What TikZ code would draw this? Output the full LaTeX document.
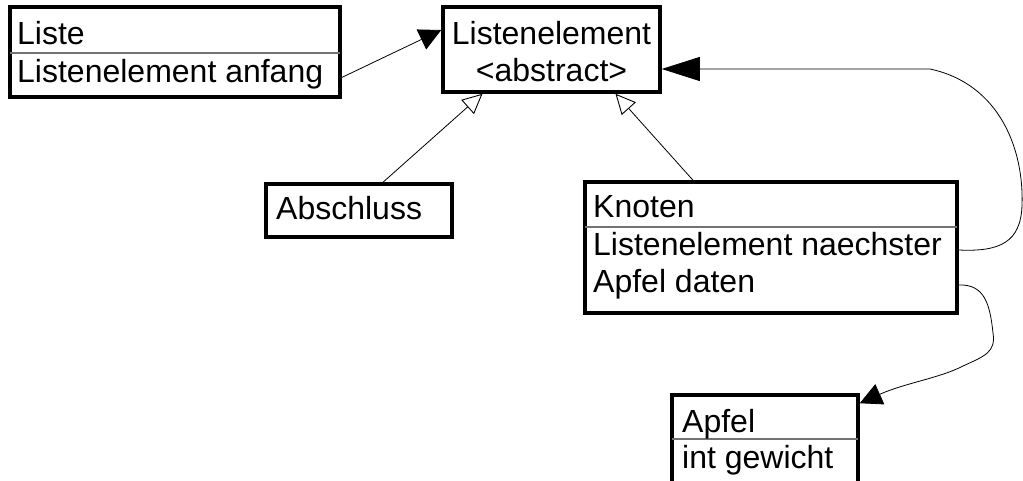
\documentclass[tikz,border=0pt]{standalone}
\usepackage{fontspec}
\setmainfont{Liberation Sans}
\usetikzlibrary{arrows.meta}
\begin{document}
\begin{tikzpicture}[x=1pt,y=-1pt,
  umlbox/.style={draw=black,line width=3.5pt,rectangle,inner sep=0pt,fill=white},
  lbl/.style={inner sep=0pt,font=\fontsize{32}{36}\selectfont},
  divider/.style={draw=black!55,line width=1.1pt},
  conn/.style={draw=black,line width=0.8pt},
  assoc/.style={conn,-{Triangle[length=22pt,width=22pt]}},
  bigassoc/.style={conn,-{Triangle[length=38pt,width=24pt]}},
  inherit/.style={conn,-{Triangle[open,length=20pt,width=19pt,line width=0.9pt,fill=white]}}]
\clip (0,0) rectangle (1023,481);
\fill[white] (0,0) rectangle (1023,481);
% boxes
\node[umlbox,minimum width=330pt,minimum height=90pt] (liste) at (175,52) {};
\node[umlbox,minimum width=217pt,minimum height=85pt] (le) at (551.5,49.5) {};
\node[umlbox,minimum width=186pt,minimum height=53pt] (abs) at (359,210.5) {};
\node[umlbox,minimum width=372pt,minimum height=131pt] (kn) at (771,247.5) {};
\node[umlbox,minimum width=186pt,minimum height=100pt] (apfel) at (765,445) {};
% dividers
\draw[divider] (10,53) -- (340,53);
\draw[divider] (585,227) -- (957,227);
\draw[divider] (672,439) -- (858,439);
% texts
\node[lbl,anchor=base west] (tliste) at (17,45) {Liste};
\node[lbl,anchor=base west] (tanfang) at (17,83) {Listenelement anfang};
\node[lbl,anchor=base] (tle) at (551.5,45) {Listenelement};
\node[lbl,anchor=base] (tabstract) at (551.5,82) {<abstract>};
\node[lbl,anchor=base west] (tabs) at (276,220) {Abschluss};
\node[lbl,anchor=base west] (tkn) at (593,218) {Knoten};
\node[lbl,anchor=base west] (tnaechster) at (593,255) {Listenelement naechster};
\node[lbl,anchor=base west] (tdaten) at (593,292) {Apfel daten};
\node[lbl,anchor=base west] (tapfel) at (682,432) {Apfel};
\node[lbl,anchor=base west] (tgewicht) at (682,468) {int gewicht};
% connectors
\draw[assoc] ([yshift=-25.5pt]liste.east) -- ([yshift=19.5pt]le.west);
\draw[inherit] ([xshift=24pt]abs.north) -- ([xshift=-69pt]le.south);
\draw[inherit] ([xshift=-78pt]kn.north) -- ([xshift=64pt]le.south);
\draw[bigassoc] ([yshift=-2.5pt]kn.east) .. controls (1000,252) and (1021,242) .. (1022,205)
   .. controls (1024,150) and (1000,84) .. (930,69) -- ([yshift=-19.5pt]le.east);
\draw[assoc] ([yshift=-37.5pt]kn.east) .. controls (985,284) and (990,305) .. (993,333)
   .. controls (996,352) and (985,356) .. (963,366)
   .. controls (940,378) and (905,383) .. ([yshift=-10pt]apfel.north east);
\end{tikzpicture}
\end{document}
